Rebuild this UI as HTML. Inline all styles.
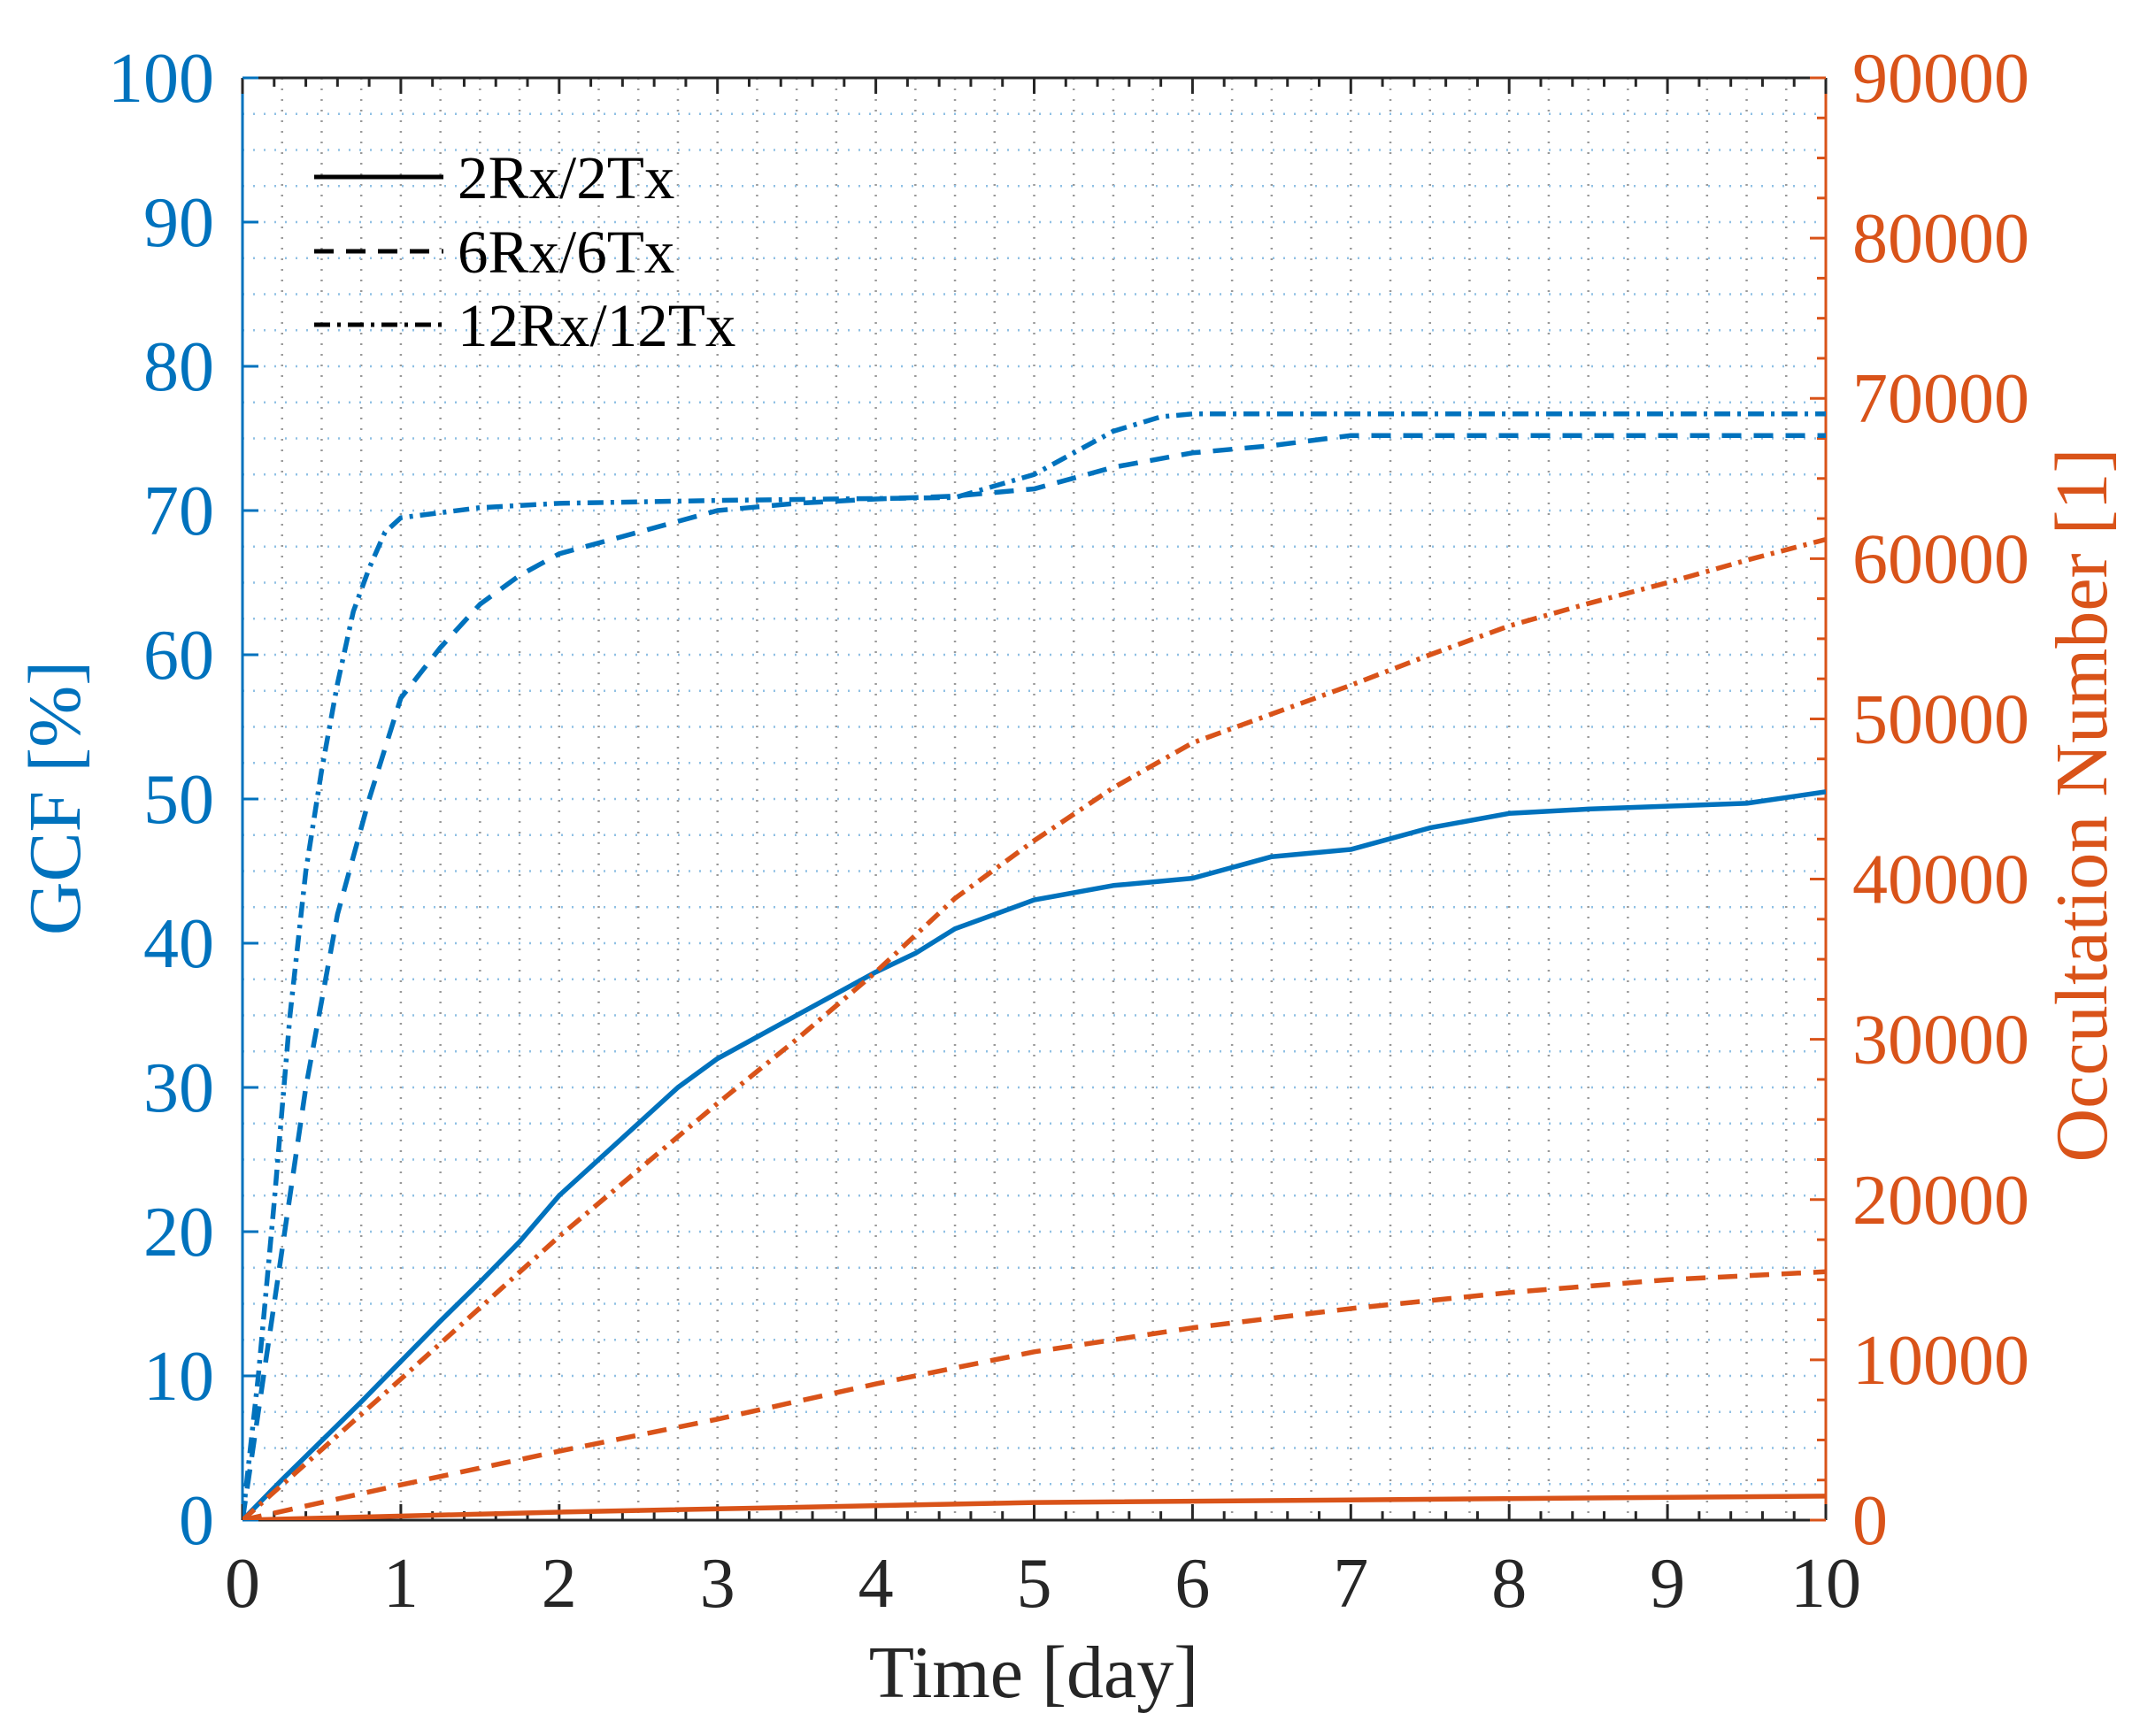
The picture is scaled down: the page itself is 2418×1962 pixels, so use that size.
<!DOCTYPE html>
<html><head><meta charset="utf-8"><style>html,body{margin:0;padding:0;background:#fff}svg{display:block}</style></head>
<body>
<svg width="2418" height="1962" viewBox="0 0 2418 1962" xmlns="http://www.w3.org/2000/svg" font-family="Liberation Serif, serif">
<defs>
<clipPath id="c"><rect x="274" y="88" width="1789" height="1630"/></clipPath>
</defs>
<g id="grid"></g>
<g id="axes"></g>
<g id="series" clip-path="url(#c)"></g>
<g id="labels"></g>
<script>
const L=274,R=2063,T=88,B=1718,W=R-L,H=B-T;
const X=d=>L+d/10*W, Y=g=>B-g/100*H, YO=o=>B-o/90000*H;
const ns="http://www.w3.org/2000/svg";
function el(p,t,a,txt){const e=document.createElementNS(ns,t);for(const k in a)e.setAttribute(k,a[k]);if(txt!==undefined)e.textContent=txt;document.getElementById(p).appendChild(e);return e;}
for(let d=0.25;d<10;d+=0.25){el('grid','line',{x1:X(d),x2:X(d),y1:T,y2:B,stroke:'#999','stroke-width':2.5,'stroke-dasharray':'2 10'});}
for(let g=2.5;g<100;g+=2.5){el('grid','line',{x1:L,x2:R,y1:Y(g),y2:Y(g),stroke:'#8fc0e4','stroke-width':2.5,'stroke-dasharray':'2 10'});}
el('axes','line',{x1:L,x2:R,y1:B,y2:B,stroke:'#262626','stroke-width':3});
el('axes','line',{x1:L,x2:R,y1:T,y2:T,stroke:'#262626','stroke-width':3});
el('axes','line',{x1:L,x2:L,y1:T,y2:B,stroke:'#0072BD','stroke-width':3});
el('axes','line',{x1:R,x2:R,y1:T,y2:B,stroke:'#D95319','stroke-width':3});
for(let d=0;d<=10;d+=0.2){const big=Math.abs(d-Math.round(d))<1e-6;const len=big?18:10;
el('axes','line',{x1:X(d),x2:X(d),y1:B,y2:B-len,stroke:'#262626','stroke-width':3});
el('axes','line',{x1:X(d),x2:X(d),y1:T,y2:T+len,stroke:'#262626','stroke-width':3});}
for(let g=0;g<=100;g+=10){el('axes','line',{x1:L,x2:L+18,y1:Y(g),y2:Y(g),stroke:'#0072BD','stroke-width':3});
el('labels','text',{x:242,y:Y(g)+27,'text-anchor':'end','font-size':80,fill:'#0072BD'},String(g));}
for(let o=0;o<=90000;o+=2500){const big=o%10000==0;el('axes','line',{x1:R,x2:R-(big?18:10),y1:YO(o),y2:YO(o),stroke:'#D95319','stroke-width':3});}
for(let o=0;o<=90000;o+=10000){el('labels','text',{x:2093,y:YO(o)+27,'font-size':80,fill:'#D95319'},String(o));}
for(let d=0;d<=10;d++){el('labels','text',{x:X(d),y:1816,'text-anchor':'middle','font-size':80,fill:'#262626'},String(d));}
el('labels','text',{x:1168,y:1918,'text-anchor':'middle','font-size':84,fill:'#262626'},'Time [day]');
el('labels','text',{x:0,y:0,'text-anchor':'middle','font-size':84,fill:'#0072BD',transform:'translate(90,902) rotate(-90)'},'GCF [%]');
el('labels','text',{x:0,y:0,'text-anchor':'middle','font-size':84,fill:'#D95319',transform:'translate(2380,910) rotate(-90)'},'Occultation Number [1]');
function pl(pts,f,col,dash){el('series','polyline',{points:pts.map(p=>X(p[0])+','+f(p[1])).join(' '),fill:'none',stroke:col,'stroke-width':5.5,'stroke-dasharray':dash||'none','stroke-linejoin':'round'});}
const DS='22 14',DD='18 8 4 8';
const B1='#0072BD',O1='#D95319';
pl([[0,0],[0.25,2.8],[0.5,5.5],[0.75,8.2],[1,11],[1.25,13.8],[1.5,16.5],[1.75,19.3],[2,22.5],[2.25,25],[2.5,27.5],[2.75,30],[3,32],[3.25,33.5],[3.5,35],[3.75,36.5],[4,38],[4.25,39.3],[4.5,41],[4.75,42],[5,43],[5.5,44],[6,44.5],[6.5,46],[7,46.5],[7.5,48],[8,49],[8.5,49.3],[9,49.5],[9.5,49.7],[10,50.5]],Y,B1);
pl([[0,0],[0.2,15],[0.4,30],[0.6,42],[0.8,50],[1,57],[1.25,60.5],[1.5,63.5],[1.75,65.5],[2,67],[2.5,68.5],[3,70],[3.5,70.5],[4,70.8],[4.5,71],[5,71.5],[5.5,73],[6,74],[6.5,74.5],[7,75.2],[10,75.2]],Y,B1,DS);
pl([[0,0],[0.1,10],[0.2,22],[0.3,35],[0.4,45],[0.5,52],[0.6,58],[0.7,63],[0.8,66],[0.9,68.5],[1,69.5],[1.5,70.2],[2,70.5],[3,70.7],[4.5,70.9],[5,72.5],[5.5,75.5],[5.8,76.5],[6,76.7],[10,76.7]],Y,B1,DD);
pl([[0,0],[1,8800],[2,17700],[3,26000],[3.5,30000],[4,34200],[4.5,38800],[5,42400],[5.5,45700],[6,48500],[6.5,50300],[7,52100],[7.5,54000],[8,55800],[8.5,57200],[9,58500],[9.5,59900],[10,61200]],YO,O1,DD);
pl([[0,0],[1,2200],[2,4300],[3,6300],[4,8500],[5,10500],[6,12000],[7,13200],[8,14200],[9,15000],[10,15500]],YO,O1,DS);
pl([[0,0],[2,500],[5,1100],[10,1500]],YO,O1);
const lg=[[200,'none','2Rx/2Tx'],[284,'22 14','6Rx/6Tx'],[367,'18 8 4 8','12Rx/12Tx']];
for(const [y,d,t] of lg){el('labels','line',{x1:355,x2:501,y1:y,y2:y,stroke:'#000','stroke-width':5,'stroke-dasharray':d});
el('labels','text',{x:517,y:y+24,'font-size':69,fill:'#000'},t);}
</script>
</svg>
</body></html>
